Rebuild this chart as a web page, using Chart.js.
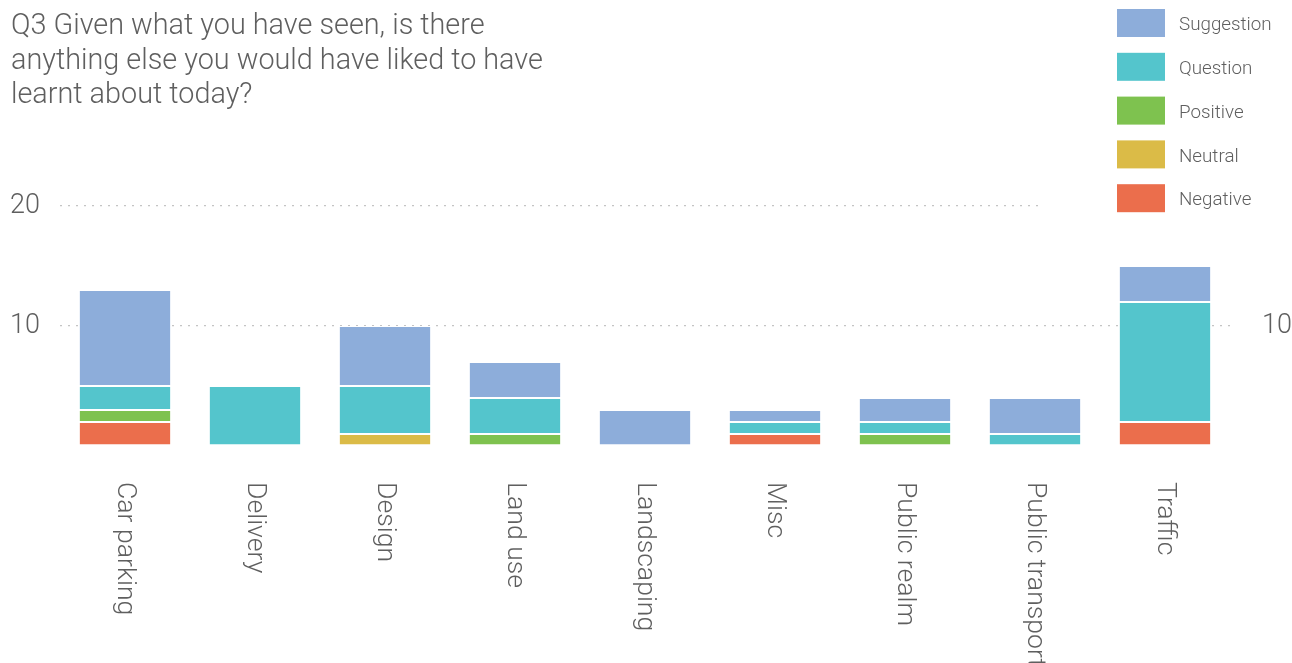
<!DOCTYPE html>
<html>
<head>
<meta charset="utf-8">
<script src="https://cdn.jsdelivr.net/npm/chart.js@4"></script>
<style>
  html, body { margin: 0; padding: 0; background: #fff; }
  #wrap { width: 1292px; height: 663px; position: relative; }
</style>
</head>
<body>
<div id="wrap"><canvas id="q3Chart" width="1292" height="663"></canvas></div>
<script>
// Topic categories along the x-axis
const categories = ['Car parking', 'Delivery', 'Design', 'Land use', 'Landscaping',
    'Misc', 'Public realm', 'Public transport', 'Traffic'];

// Counts per sentiment (stack order: bottom to top)
const negative   = [2, 0, 0, 0, 0, 1, 0, 0, 2];
const neutral    = [0, 0, 1, 0, 0, 0, 0, 0, 0];
const positive   = [1, 0, 0, 1, 0, 0, 1, 0, 0];
const question   = [2, 5, 4, 3, 0, 1, 1, 1, 10];
const suggestion = [8, 0, 5, 3, 3, 1, 2, 3, 3];

const yTicks = [10, 20];

const titleLines = [
    'Q3 Given what you have seen, is there',
    'anything else you would have liked to have',
    'learnt about today?'
];

const FONT = 'Roboto';
const TEXT = '#5f5f5f';

const series = [
    { label: 'Negative',   data: negative,   color: '#EB6E4C' },
    { label: 'Neutral',    data: neutral,    color: '#DBBB47' },
    { label: 'Positive',   data: positive,   color: '#7EC24F' },
    { label: 'Question',   data: question,   color: '#54C5CC' },
    { label: 'Suggestion', data: suggestion, color: '#8DADDA' }
];

// Title, legend and rotated category labels
const decorations = {
    id: 'decorations',
    beforeDatasetsDraw(chart) {
        // legend block hides the right end of the top gridline
        const ctx = chart.ctx;
        ctx.save();
        ctx.fillStyle = '#fff';
        ctx.fillRect(1038, 0, 254, 215);
        ctx.restore();
    },
    afterDraw(chart) {
        const ctx = chart.ctx;
        ctx.save();

        // title
        ctx.fillStyle = TEXT;
        ctx.font = `300 28.8px ${FONT}`;
        ctx.textAlign = 'left';
        ctx.textBaseline = 'alphabetic';
        titleLines.forEach((line, i) => ctx.fillText(line, 11, 34 + i * 34.5));

        // legend, top item is the top of the stack
        ctx.font = `300 18.8px ${FONT}`;
        ctx.textBaseline = 'middle';
        series.slice().reverse().forEach((s, i) => {
            const y = 9 + i * 43.8;
            ctx.fillStyle = s.color;
            ctx.fillRect(1117, y, 48, 28);
            ctx.fillStyle = TEXT;
            ctx.fillText(s.label, 1179, y + 16.5);
        });

        // category labels, rotated clockwise
        const xScale = chart.scales.x;
        ctx.font = `300 26.6px ${FONT}`;
        ctx.fillStyle = TEXT;
        categories.forEach((c, i) => {
            const px = xScale.getPixelForValue(i);
            ctx.save();
            ctx.translate(px, 482);
            ctx.rotate(Math.PI / 2);
            ctx.textAlign = 'left';
            ctx.textBaseline = 'middle';
            ctx.fillText(c, 0, 0);
            ctx.restore();
        });
        ctx.restore();
    }
};

const tickCfg = {
    stepSize: 10,
    color: TEXT,
    font: { family: FONT, size: 27, weight: 300 },
    callback: v => (yTicks.includes(v) ? v : '')
};

new Chart(document.getElementById('q3Chart').getContext('2d'), {
    type: 'bar',
    data: {
        labels: categories,
        datasets: series.map(s => ({
            label: s.label,
            data: s.data,
            backgroundColor: s.color,
            borderColor: '#ffffff',
            borderWidth: 1,
            borderSkipped: false,
            barPercentage: 0.71,
            categoryPercentage: 1
        }))
    },
    options: {
        responsive: false,
        animation: false,
        layout: { padding: { top: 206, bottom: 217, left: 0, right: 0 } },
        plugins: {
            legend: { display: false },
            title: { display: false },
            tooltip: { enabled: false }
        },
        scales: {
            x: {
                stacked: true,
                display: false
            },
            y: {
                stacked: true,
                position: 'left',
                min: 0,
                max: 20,
                afterFit: s => { s.width = 60; },
                ticks: { ...tickCfg, padding: 20 },
                grid: {
                    color: c => (c.tick && c.tick.value === 0 ? 'rgba(0,0,0,0)' : '#c4c4c4'),
                    lineWidth: 1.3,
                    drawTicks: false
                },
                border: { display: false, dash: [2, 6] }
            },
            y2: {
                position: 'right',
                min: 0,
                max: 20,
                afterFit: s => { s.width = 62; },
                ticks: { ...tickCfg, padding: 32, callback: v => (v === 10 ? v : '') },
                grid: { display: false, drawTicks: false },
                border: { display: false }
            }
        }
    },
    plugins: [decorations]
});
</script>
</body>
</html>
